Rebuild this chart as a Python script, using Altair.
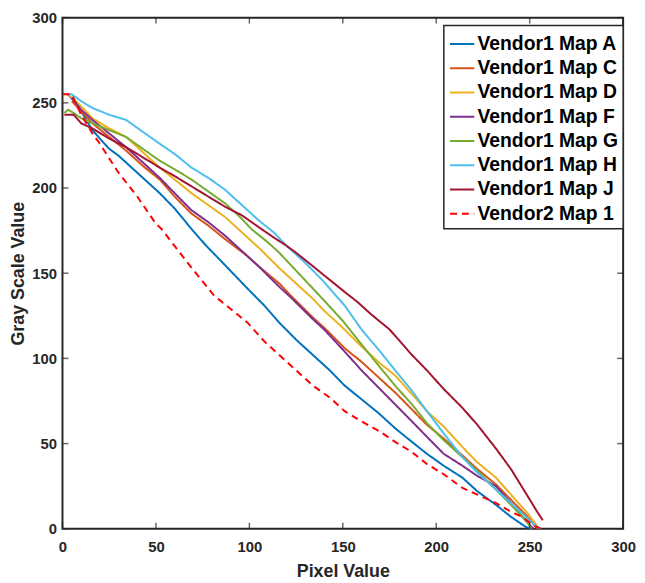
import altair as alt
import pandas as pd

series_names = ["Vendor1 Map A", "Vendor1 Map C", "Vendor1 Map D", "Vendor1 Map F",
                "Vendor1 Map G", "Vendor1 Map H", "Vendor1 Map J", "Vendor2 Map 1"]
colors = ["#0072BD", "#D95319", "#EDB120", "#7E2F8E", "#77AC30", "#4DBEEE", "#A2142F", "#FF0000"]
dashes = [[1, 0]] * 7 + [[7, 5]]

x_A = [3, 7, 10, 16, 20, 25, 30, 34, 40, 46, 52, 60, 69, 77, 85, 92, 99, 108, 116, 125, 134, 143, 151, 160, 169, 178, 187, 195, 204, 214, 222, 232, 240, 248, 251]
y_A = [255, 250, 245, 234, 229, 223, 219, 215, 209, 203, 197, 188, 176, 166, 157, 149, 141, 131, 121, 111, 102, 93, 84, 76, 68, 59, 51, 44, 37, 30, 22, 14, 7, 1, 0]

x_C = [5, 10, 16, 25, 34, 43, 52, 60, 69, 78, 87, 99, 105, 116, 122, 134, 141, 151, 160, 169, 178, 187, 195, 204, 214, 222, 232, 240, 249, 254]
y_C = [251, 245, 238, 230, 222, 213, 205, 195, 185, 178, 170, 160, 154, 144, 137, 124, 117, 106, 98, 89, 80, 70, 61, 53, 43, 35, 26, 17, 7, 0]

x_D = [3, 10, 16, 25, 34, 43, 52, 60, 69, 78, 87, 94, 105, 116, 122, 134, 140, 149, 160, 170, 178, 187, 195, 204, 214, 222, 232, 240, 249, 255]
y_D = [255, 248, 241, 235, 230, 221, 212, 205, 197, 190, 183, 176, 165, 153, 147, 135, 128, 119, 107, 97, 90, 79, 69, 60, 48, 39, 30, 20, 9, 0]

x_F = [5, 10, 16, 25, 34, 43, 52, 60, 69, 78, 87, 99, 105, 116, 122, 134, 140, 151, 160, 169, 178, 187, 195, 204, 214, 222, 232, 240, 246, 252]
y_F = [253, 246, 240, 232, 224, 215, 206, 197, 187, 180, 172, 160, 154, 142, 136, 123, 117, 104, 93, 83, 73, 63, 54, 44, 37, 31, 25, 15, 7, 0]

x_G = [1, 3, 6, 10, 16, 25, 34, 43, 52, 60, 69, 78, 87, 95, 101, 110, 116, 122, 134, 140, 150, 158, 169, 178, 187, 195, 204, 214, 222, 232, 240, 248, 251]
y_G = [244, 246, 244, 241, 238, 234, 230, 223, 216, 211, 205, 198, 191, 183, 176, 168, 162, 155, 141, 134, 122, 111, 96, 84, 73, 62, 52, 42, 34, 23, 14, 5, 0]

x_H = [2, 5, 10, 16, 25, 34, 43, 52, 60, 69, 78, 87, 96, 105, 113, 120, 125, 130, 139, 151, 160, 170, 178, 187, 195, 204, 214, 222, 232, 240, 248, 253, 256]
y_H = [255, 255, 251, 247, 243, 240, 233, 226, 220, 212, 206, 199, 190, 181, 174, 166, 161, 156, 146, 131, 117, 104, 93, 81, 69, 56, 42, 33, 23, 15, 7, 2, 0]

x_J = [1, 6, 10, 16, 25, 34, 43, 52, 60, 69, 78, 87, 96, 105, 113, 120, 125, 133, 142, 151, 158, 165, 175, 187, 195, 204, 214, 222, 232, 240, 249, 254, 257]
y_J = [243, 243, 238, 235, 229, 224, 218, 212, 207, 201, 195, 189, 184, 177, 171, 166, 162, 155, 147, 139, 133, 126, 117, 102, 93, 82, 71, 61, 47, 35, 19, 10, 5]

x_V2 = [0, 5, 10, 16, 20, 27, 30, 40, 50, 53, 60, 67, 70, 81, 90, 99, 108, 116, 125, 134, 143, 151, 160, 170, 178, 187, 195, 204, 214, 222, 232, 240, 246, 252, 256]
y_V2 = [255, 255, 243, 232, 226, 214, 209, 195, 179, 176, 166, 156, 152, 137, 129, 121, 110, 102, 93, 84, 77, 69, 63, 57, 51, 45, 38, 32, 24, 20, 15, 10, 7, 2, 0]

tick_values = [0, 50, 100, 150, 200, 250, 300]

all_x = [x_A, x_C, x_D, x_F, x_G, x_H, x_J, x_V2]
all_y = [y_A, y_C, y_D, y_F, y_G, y_H, y_J, y_V2]

rows = []
for name, xs, ys in zip(series_names, all_x, all_y):
    for xv, yv in zip(xs, ys):
        rows.append({"series": name, "x": xv, "y": yv})
df = pd.DataFrame(rows)
tick_df = pd.DataFrame({"x": tick_values, "y": tick_values})

W, H = 566, 516
FONT = "Liberation Sans"
AX = "#262626"
xscale = alt.Scale(domain=[0, 300], nice=False, zero=False)
yscale = alt.Scale(domain=[0, 300], nice=False, zero=False)
xaxis = alt.Axis(values=tick_values, title="Pixel Value", labelFlush=False,
                 labelPadding=11, titlePadding=8)
yaxis = alt.Axis(values=tick_values, title="Gray Scale Value",
                 labelPadding=6, titlePadding=4)

lines = alt.Chart(df).mark_line(strokeWidth=2, clip=True).encode(
    x=alt.X("x:Q", scale=xscale, axis=xaxis),
    y=alt.Y("y:Q", scale=yscale, axis=yaxis),
    color=alt.Color("series:N", scale=alt.Scale(domain=series_names, range=colors), title=None),
    strokeDash=alt.StrokeDash("series:N", scale=alt.Scale(domain=series_names, range=dashes), title=None),
)

tk = dict(color=AX, thickness=1.5, size=6)
xt_bot = alt.Chart(tick_df).mark_tick(orient="vertical", **tk).encode(
    x=alt.X("x:Q", scale=xscale, axis=xaxis), y=alt.value(H - 3))
xt_top = alt.Chart(tick_df).mark_tick(orient="vertical", **tk).encode(
    x=alt.X("x:Q", scale=xscale, axis=xaxis), y=alt.value(3))
yt_left = alt.Chart(tick_df).mark_tick(orient="horizontal", **tk).encode(
    y=alt.Y("y:Q", scale=yscale, axis=yaxis), x=alt.value(3))
yt_right = alt.Chart(tick_df).mark_tick(orient="horizontal", **tk).encode(
    y=alt.Y("y:Q", scale=yscale, axis=yaxis), x=alt.value(W - 3))

chart = alt.layer(lines, xt_bot, xt_top, yt_left, yt_right).properties(
    width=W, height=H,
    autosize=alt.AutoSizeParams(type="none"),
    padding={"left": 55, "top": 7, "right": 14, "bottom": 51},
).configure_view(
    stroke=AX, strokeWidth=2
).configure_axis(
    domain=False, ticks=False, grid=False,
    labelFont=FONT, labelFontSize=15, labelFontWeight="bold", labelColor=AX,
    titleFont=FONT, titleFontSize=18, titleFontWeight="bold", titleColor=AX,
).configure_legend(
    orient="none", legendX=385, legendY=8,
    padding=5, fillColor="white", strokeColor=AX, strokeWidth=1.5, cornerRadius=0,
    symbolType="stroke", symbolSize=600, symbolStrokeWidth=2,
    labelFont=FONT, labelFontSize=19.5, labelFontWeight="bold", labelColor="#000000",
    labelOffset=2, rowPadding=1.5, labelLimit=300,
)

chart.save("out.html", embed_options={"renderer": "svg", "actions": False})
